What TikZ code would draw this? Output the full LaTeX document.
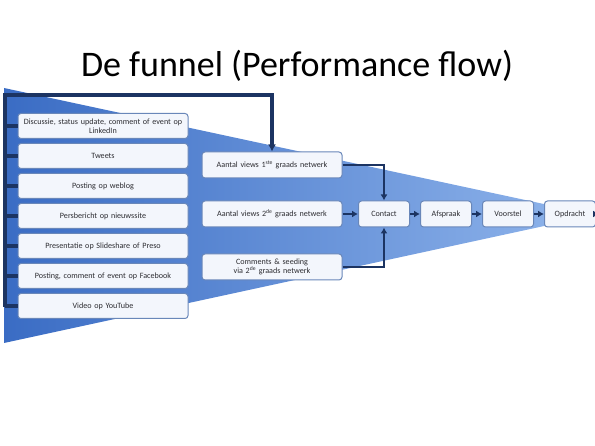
\documentclass[tikz,border=0pt]{standalone}
\usepackage{fontspec}
\setmainfont{Carlito}
\usetikzlibrary{arrows, arrows.meta, shapes, positioning}

\definecolor{trechterL}{RGB}{58,108,196}
\definecolor{trechterR}{RGB}{145,182,236}
\definecolor{marine}{RGB}{28,52,98}
\definecolor{boxrand}{RGB}{105,135,185}
\definecolor{boxvul}{RGB}{243,246,252}
\definecolor{tekst}{RGB}{45,45,50}

\begin{document}
\begin{tikzpicture}[x=1pt, y=-1pt,
    bron/.style={draw=boxrand, fill=boxvul, rounded corners=3pt, line width=1pt,
      minimum width=170pt, minimum height=25pt, text width=166pt, align=center,
      inner sep=1pt, text=tekst, font=\fontsize{8.1}{9}\selectfont},
    midden/.style={bron, minimum width=140pt, text width=136pt, minimum height=26pt},
    stap/.style={bron, minimum width=51pt, text width=48pt, minimum height=26pt},
    dik/.style={draw=marine, line width=3.4pt},
    pijl/.style={draw=marine, line width=1.8pt, -{Latex[length=6pt,width=7pt]}}]
    \useasboundingbox (0,0) rectangle (595,446);

    % titel
    \node[anchor=base, font=\fontsize{36}{40}\selectfont] (titel) at (297,77) {De funnel (Performance flow)};

    % trechter
    \shade[left color=trechterL, right color=trechterR] (4,88) -- (595,215) -- (4,343) -- cycle;

    % bronnen links
    \foreach \tekst [count=\i] in {{Discussie, status update, comment of event op\\LinkedIn},
        Tweets, Posting op weblog, Persbericht op nieuwssite,
        Presentatie op Slideshare of Preso, {Posting, comment of event op Facebook},
        Video op YouTube}
      \node[bron] (b\i) at (103,96+30*\i) {\tekst};

    % middelste kolom
    \node[midden] (m1) at (272,165) {Aantal views 1\textsuperscript{ste} graads netwerk};
    \node[midden] (m2) at (272,214) {Aantal views 2\textsuperscript{de} graads netwerk};
    \node[midden] (m3) at (272,267) {Comments \& seeding\\via 2\textsuperscript{de} graads netwerk};

    % stappen
    \node[stap] (contact) at (384,214) {Contact};
    \node[stap, right=10pt of contact] (afspraak) {Afspraak};
    \node[stap, right=10pt of afspraak] (voorstel) {Voorstel};
    \node[stap, right=10pt of voorstel] (opdracht) {Opdracht};
    \coordinate (uit) at (599,214);

    % verzamellijn
    \coordinate (boven) at (5,95);
    \coordinate (onder) at (5,307);
    \draw[dik, -{Latex[length=7pt,width=8pt]}] (onder) -- (boven) -| (m1.north);
    \foreach \i in {1,...,7}
      \draw[dik] (boven |- b\i.west) -- (b\i.west);

    % pijlen
    \draw[pijl] (m1.east) -| (contact.north);
    \draw[pijl] (m2) -- (contact);
    \draw[pijl] (m3.east) -| (contact.south);
    \draw[pijl] (contact) -- (afspraak);
    \draw[pijl] (afspraak) -- (voorstel);
    \draw[pijl] (voorstel) -- (opdracht);
    \draw[pijl] (opdracht) -- (uit);
\end{tikzpicture}
\end{document}
